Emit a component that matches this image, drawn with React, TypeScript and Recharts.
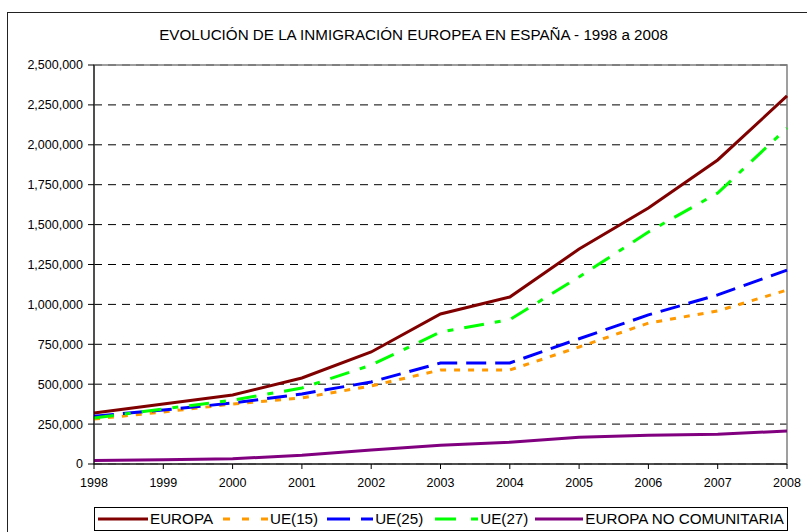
import React from "react";
import {
  LineChart,
  Line,
  XAxis,
  YAxis,
  CartesianGrid,
  ReferenceArea,
} from "recharts";

const years = ["1998", "1999", "2000", "2001", "2002", "2003", "2004", "2005", "2006", "2007", "2008"];
const europa = [320000, 376000, 432000, 539000, 702000, 940000, 1046000, 1347000, 1604000, 1905000, 2306000];
const ue15 = [282000, 326000, 376000, 414000, 489000, 589000, 589000, 733000, 883000, 959000, 1090000];
const ue25 = [300000, 338000, 382000, 439000, 514000, 633000, 633000, 785000, 934000, 1060000, 1215000];
const ue27 = [288000, 345000, 400000, 476000, 620000, 827000, 905000, 1172000, 1454000, 1698000, 2105000];
const noComunitaria = [22000, 26000, 33000, 55000, 88000, 118000, 136000, 168000, 180000, 186000, 207000];
const yTicks = [0, 250000, 500000, 750000, 1000000, 1250000, 1500000, 1750000, 2000000, 2250000, 2500000];

const title = "EVOLUCIÓN DE LA INMIGRACIÓN EUROPEA EN ESPAÑA - 1998 a 2008";

const series = [
  { key: "europa", name: "EUROPA", color: "#800000", dash: undefined, legendDash: undefined, iconW: 50, gap: 3 },
  { key: "ue15", name: "UE(15)", color: "#FF9900", dash: "6 8", legendDash: "7 12", iconW: 45, gap: 10 },
  { key: "ue25", name: "UE(25)", color: "#0000FF", dash: "20 9", legendDash: "23 11", iconW: 46, gap: 9 },
  { key: "ue27", name: "UE(27)", color: "#00FF00", dash: "20 11 6 11", legendDash: "21 15 7", iconW: 43, gap: 12 },
  { key: "noComunitaria", name: "EUROPA NO COMUNITARIA", color: "#800080", dash: undefined, legendDash: undefined, iconW: 48, gap: 7 },
];

const data = years.map((year, i) => ({
  year,
  europa: europa[i],
  ue15: ue15[i],
  ue25: ue25[i],
  ue27: ue27[i],
  noComunitaria: noComunitaria[i],
}));

const font = "'Liberation Sans', Arial, sans-serif";

export default function App() {
  return (
    <div
      style={{
        position: "relative",
        width: 807,
        height: 532,
        overflow: "hidden",
        background: "#fff",
        fontFamily: font,
      }}
    >
      <style>{`body{margin:0}`}</style>
      {/* outer chart frame */}
      <div
        style={{
          position: "absolute",
          left: 7,
          top: 12,
          width: 830,
          height: 560,
          border: "1.5px solid #222",
        }}
      />
      <div
        style={{
          position: "absolute",
          left: 0,
          width: 827,
          top: 26,
          textAlign: "center",
          fontSize: 15.2,
          color: "#000",
        }}
      >
        {title}
      </div>
      <div style={{ position: "absolute", left: 0, top: 0 }}>
        <LineChart
          width={807}
          height={532}
          data={data}
          margin={{ top: 65, right: 20, bottom: 48, left: 0 }}
        >
          <ReferenceArea
            x1="1998"
            x2="2008"
            y1={0}
            y2={2500000}
            fill="none"
            stroke="#808080"
            strokeWidth={1.5}
            ifOverflow="visible"
          />
          <CartesianGrid vertical={false} stroke="#000" strokeDasharray="8 6" />
          <XAxis
            dataKey="year"
            height={20}
            interval={0}
            stroke="#000"
            tickSize={5}
            tickMargin={9}
            tick={{ fill: "#000", fontSize: 12.5, fontFamily: font }}
          />
          <YAxis
            width={94}
            domain={[0, 2500000]}
            ticks={yTicks}
            interval={0}
            stroke="#000"
            tickSize={6}
            tickMargin={5}
            tick={{ fill: "#000", fontSize: 12.5, fontFamily: font }}
            tickFormatter={(v: number) => v.toLocaleString("en-US")}
          />
          {series.map((s) => (
            <Line
              key={s.key}
              type="linear"
              dataKey={s.key}
              name={s.name}
              stroke={s.color}
              strokeWidth={3}
              strokeDasharray={s.dash}
              dot={false}
              activeDot={false}
              isAnimationActive={false}
            />
          ))}
        </LineChart>
      </div>
      {/* legend */}
      <div
        style={{
          position: "absolute",
          left: 94,
          top: 507,
          width: 692,
          height: 22,
          border: "1px solid #000",
          display: "flex",
          alignItems: "center",
          fontSize: 15.2,
          color: "#000",
          whiteSpace: "nowrap",
          boxSizing: "content-box",
        }}
      >
        {series.map((s) => (
          <div
            key={s.key}
            style={{ display: "flex", alignItems: "center", flexShrink: 0, marginLeft: s.gap }}
          >
            <svg width={s.iconW} height={10} style={{ marginRight: 2, flexShrink: 0 }}>
              <line
                x1={0}
                y1={5}
                x2={s.iconW}
                y2={5}
                stroke={s.color}
                strokeWidth={3}
                strokeDasharray={s.legendDash}
              />
            </svg>
            <span style={{ lineHeight: "22px" }}>{s.name}</span>
          </div>
        ))}
      </div>
    </div>
  );
}
